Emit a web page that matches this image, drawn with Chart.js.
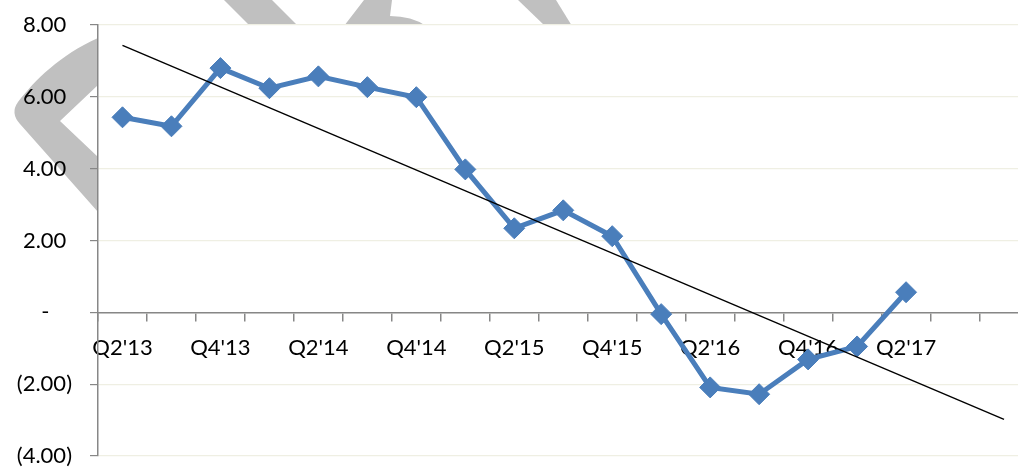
<!DOCTYPE html>
<html>
<head>
<meta charset="utf-8">
<script src="https://cdn.jsdelivr.net/npm/chart.js@4"></script>
<style>
  html, body { margin: 0; padding: 0; background: #fff; overflow: hidden; }
  #wrap { width: 1018px; height: 468px; overflow: hidden; }
  canvas { display: block; }
</style>
</head>
<body>
<div id="wrap"><canvas id="chart" width="1040" height="468"></canvas></div>
<script>
// quarters on the category axis (last two are empty, only the trendline reaches them)
const quarters = ["Q2'13", "Q3'13", "Q4'13", "Q1'14", "Q2'14", "Q3'14", "Q4'14", "Q1'15", "Q2'15",
  "Q3'15", "Q4'15", "Q1'16", "Q2'16", "Q3'16", "Q4'16", "Q1'17", "Q2'17", "Q3'17", "Q4'17"]
const values = [5.43, 5.18, 6.80, 6.24, 6.57, 6.27, 5.99, 3.98, 2.34, 2.84, 2.12, -0.05, -2.09, -2.28, -1.31, -0.95, 0.56]
// linear trendline, read at its two ends
const trendQuarters = ["Q2'13", "Q4'17"]
const trendValues = [7.43, -2.98]
const yTicks = [-4, -2, 0, 2, 4, 6, 8]

const font = { family: 'Lato, "Open Sans", sans-serif', size: 22 }
const axisGray = '#878787'

function fmt (v) {
  if (v === 0) return '-    '
  if (v < 0) return '(' + Math.abs(v).toFixed(2) + ')'
  return v.toFixed(2) + ' '
}

// faint grey watermark that only shows outside the plot area
const watermark = {
  id: 'watermark',
  beforeDraw (chart) {
    const { ctx, chartArea: a } = chart
    ctx.save()
    ctx.fillStyle = '#c0c0c0'
    ctx.beginPath()
    ctx.moveTo(98, 38)
    ctx.bezierCurveTo(60, 55, 35, 80, 18, 102)
    ctx.quadraticCurveTo(10, 113, 20, 124)
    ctx.lineTo(98, 212)
    ctx.lineTo(98, 157)
    ctx.lineTo(60, 121)
    ctx.lineTo(98, 85)
    ctx.closePath()
    ctx.fill()
    ctx.beginPath()
    ctx.moveTo(224, 0); ctx.lineTo(272, 0); ctx.lineTo(298, 26); ctx.lineTo(250, 26); ctx.closePath()
    ctx.fill()
    ctx.beginPath()
    ctx.moveTo(364, 0); ctx.lineTo(392, 0); ctx.lineTo(390, 16)
    ctx.quadraticCurveTo(412, 16, 426, 26); ctx.lineTo(344, 26); ctx.closePath()
    ctx.fill()
    ctx.beginPath()
    ctx.moveTo(518, 0); ctx.lineTo(556, 0); ctx.lineTo(572, 26); ctx.lineTo(545, 26); ctx.closePath()
    ctx.fill()
    ctx.fillStyle = '#fff'
    ctx.fillRect(a.left, a.top, a.right - a.left, a.bottom - a.top)
    ctx.restore()
  }
}

new Chart(document.getElementById('chart'), {
  type: 'line',
  data: {
    labels: quarters,
    datasets: [
      {
        label: 'Trend',
        data: trendQuarters.map((q, i) => ({ x: q, y: trendValues[i] })),
        borderColor: '#000',
        borderWidth: 1.4,
        pointRadius: 0,
        order: 0
      },
      {
        label: 'Value',
        data: values,
        borderColor: '#4a7ebb',
        backgroundColor: '#4a7ebb',
        borderWidth: 5,
        pointStyle: 'rectRot',
        pointRadius: 10.5,
        pointBorderWidth: 1,
        order: 1
      }
    ]
  },
  options: {
    responsive: false,
    animation: false,
    layout: { padding: { left: 0, top: 25, right: 0, bottom: 12 } },
    plugins: { legend: { display: false }, tooltip: { enabled: false } },
    scales: {
      x: {
        type: 'category',
        offset: true,
        position: { y: 0 },
        afterFit: s => { s.paddingLeft = 0; s.paddingRight = 0 },
        grid: { offset: true, drawOnChartArea: false, tickLength: 8, color: axisGray, lineWidth: 1.5 },
        border: { color: axisGray, width: 1.5 },
        ticks: {
          autoSkip: false,
          maxRotation: 0,
          padding: 14,
          color: '#000',
          font,
          callback: (v, i) => (i % 2 === 0 && i <= 16) ? quarters[i] : ''
        }
      },
      y: {
        min: -4,
        max: 8,
        afterFit: s => { s.width = 98; s.paddingTop = 0; s.paddingBottom = 0 },
        afterBuildTicks: s => { s.ticks = yTicks.map(v => ({ value: v })) },
        grid: { color: '#efefe3', tickColor: axisGray, tickLength: 8, lineWidth: 1.2 },
        border: { color: axisGray, width: 1.5 },
        ticks: { padding: 18, color: '#000', font, callback: v => fmt(v) }
      }
    }
  },
  plugins: [watermark]
})
</script>
</body>
</html>
